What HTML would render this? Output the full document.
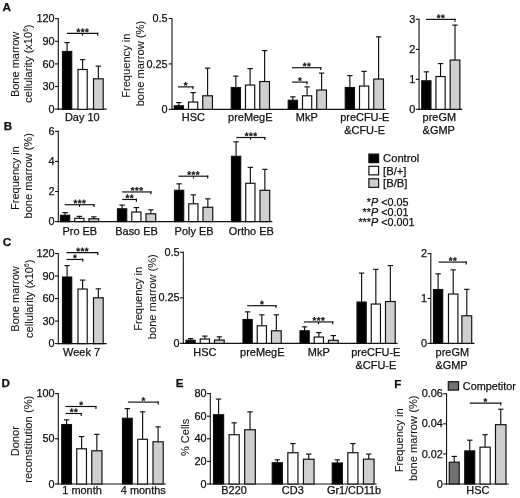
<!DOCTYPE html>
<html lang="en">
<head>
<meta charset="utf-8">
<title>Figure</title>
<style>
html,body{margin:0;padding:0;background:#fff;}
body{width:520px;height:498px;overflow:hidden;}
svg{display:block;}
svg text{font-family:"Liberation Sans", Arial, sans-serif;fill:#111;stroke:#111;stroke-width:0.25px;}
svg text.r{stroke-width:0.06px;}
</style>
</head>
<body>
<svg width="520" height="498" viewBox="0 0 520 498">
<rect x="0" y="0" width="520" height="498" fill="#fff"/>
<g transform="translate(0.3,0.6)">
<text x="2.30" y="10.50" font-size="11.8" text-anchor="start" font-weight="bold">A</text>
<line x1="58.00" y1="17.55" x2="58.00" y2="109.05" stroke="#111" stroke-width="1.1"/>
<line x1="57.45" y1="108.50" x2="106.30" y2="108.50" stroke="#111" stroke-width="1.1"/>
<line x1="54.70" y1="18.10" x2="58.00" y2="18.10" stroke="#111" stroke-width="1.1"/>
<text x="54.30" y="21.75" font-size="10.9" text-anchor="end" font-weight="normal">120</text>
<line x1="54.70" y1="40.70" x2="58.00" y2="40.70" stroke="#111" stroke-width="1.1"/>
<text x="54.30" y="44.35" font-size="10.9" text-anchor="end" font-weight="normal">90</text>
<line x1="54.70" y1="63.30" x2="58.00" y2="63.30" stroke="#111" stroke-width="1.1"/>
<text x="54.30" y="66.95" font-size="10.9" text-anchor="end" font-weight="normal">60</text>
<line x1="54.70" y1="85.90" x2="58.00" y2="85.90" stroke="#111" stroke-width="1.1"/>
<text x="54.30" y="89.55" font-size="10.9" text-anchor="end" font-weight="normal">30</text>
<line x1="54.70" y1="108.50" x2="58.00" y2="108.50" stroke="#111" stroke-width="1.1"/>
<text x="54.30" y="112.15" font-size="10.9" text-anchor="end" font-weight="normal">0</text>
<line x1="66.80" y1="42.00" x2="66.80" y2="50.80" stroke="#111" stroke-width="1.15"/>
<line x1="64.10" y1="42.00" x2="69.50" y2="42.00" stroke="#111" stroke-width="1.15"/>
<rect x="62.19" y="50.89" width="9.22" height="57.86" fill="#000" stroke="#111" stroke-width="1.18"/>
<line x1="82.30" y1="59.00" x2="82.30" y2="68.80" stroke="#111" stroke-width="1.15"/>
<line x1="79.60" y1="59.00" x2="85.00" y2="59.00" stroke="#111" stroke-width="1.15"/>
<rect x="77.69" y="68.89" width="9.22" height="39.86" fill="#fff" stroke="#111" stroke-width="1.18"/>
<line x1="98.05" y1="65.50" x2="98.05" y2="78.10" stroke="#111" stroke-width="1.15"/>
<line x1="95.35" y1="65.50" x2="100.75" y2="65.50" stroke="#111" stroke-width="1.15"/>
<rect x="93.19" y="78.19" width="9.72" height="30.56" fill="#cfcfcf" stroke="#111" stroke-width="1.18"/>
<line x1="66.60" y1="32.80" x2="98.00" y2="32.80" stroke="#111" stroke-width="1.18"/>
<line x1="97.41" y1="32.21" x2="97.41" y2="35.20" stroke="#111" stroke-width="1.18"/>
<line x1="82.10" y1="32.80" x2="82.10" y2="35.00" stroke="#111" stroke-width="1.18"/>
<text x="82.55" y="34.60" font-size="9.7" text-anchor="middle" font-weight="bold" letter-spacing="0.5" transform="rotate(0.03 82.55 34.60)">***</text>
<text x="82.00" y="120.60" font-size="10.95" text-anchor="middle" font-weight="normal">Day 10</text>
<text x="18.30" y="63.80" font-size="11.0" text-anchor="middle" font-weight="normal" transform="rotate(-90 18.30 63.80)" class="r">Bone marrow</text>
<text x="31.60" y="63.05" font-size="11.12" text-anchor="middle" font-weight="normal" transform="rotate(-90 31.60 63.05)" class="r">cellularity (x10<tspan font-size="6.5" dy="-4">6</tspan><tspan dy="4">)</tspan></text>
<line x1="171.70" y1="17.35" x2="171.70" y2="109.30" stroke="#111" stroke-width="1.1"/>
<line x1="171.15" y1="108.75" x2="385.20" y2="108.75" stroke="#111" stroke-width="1.1"/>
<line x1="168.40" y1="17.90" x2="171.70" y2="17.90" stroke="#111" stroke-width="1.1"/>
<text x="167.30" y="21.55" font-size="10.9" text-anchor="end" font-weight="normal">0.5</text>
<line x1="168.40" y1="63.32" x2="171.70" y2="63.32" stroke="#111" stroke-width="1.1"/>
<text x="167.30" y="66.98" font-size="10.9" text-anchor="end" font-weight="normal">0.25</text>
<line x1="168.40" y1="108.75" x2="171.70" y2="108.75" stroke="#111" stroke-width="1.1"/>
<text x="167.30" y="112.40" font-size="10.9" text-anchor="end" font-weight="normal">0</text>
<line x1="178.55" y1="102.00" x2="178.55" y2="105.10" stroke="#111" stroke-width="1.15"/>
<line x1="175.85" y1="102.00" x2="181.25" y2="102.00" stroke="#111" stroke-width="1.15"/>
<rect x="173.94" y="105.19" width="9.22" height="3.56" fill="#000" stroke="#111" stroke-width="1.18"/>
<line x1="192.80" y1="92.00" x2="192.80" y2="101.35" stroke="#111" stroke-width="1.15"/>
<line x1="190.10" y1="92.00" x2="195.50" y2="92.00" stroke="#111" stroke-width="1.15"/>
<rect x="188.19" y="101.44" width="9.22" height="7.31" fill="#fff" stroke="#111" stroke-width="1.18"/>
<line x1="207.30" y1="67.50" x2="207.30" y2="95.10" stroke="#111" stroke-width="1.15"/>
<line x1="204.60" y1="67.50" x2="210.00" y2="67.50" stroke="#111" stroke-width="1.15"/>
<rect x="202.44" y="95.19" width="9.72" height="13.56" fill="#cfcfcf" stroke="#111" stroke-width="1.18"/>
<line x1="235.55" y1="75.50" x2="235.55" y2="86.85" stroke="#111" stroke-width="1.15"/>
<line x1="232.85" y1="75.50" x2="238.25" y2="75.50" stroke="#111" stroke-width="1.15"/>
<rect x="230.94" y="86.94" width="9.22" height="21.81" fill="#000" stroke="#111" stroke-width="1.18"/>
<line x1="249.80" y1="68.00" x2="249.80" y2="84.35" stroke="#111" stroke-width="1.15"/>
<line x1="247.10" y1="68.00" x2="252.50" y2="68.00" stroke="#111" stroke-width="1.15"/>
<rect x="245.19" y="84.44" width="9.22" height="24.31" fill="#fff" stroke="#111" stroke-width="1.18"/>
<line x1="264.30" y1="50.00" x2="264.30" y2="80.85" stroke="#111" stroke-width="1.15"/>
<line x1="261.60" y1="50.00" x2="267.00" y2="50.00" stroke="#111" stroke-width="1.15"/>
<rect x="259.44" y="80.94" width="9.72" height="27.81" fill="#cfcfcf" stroke="#111" stroke-width="1.18"/>
<line x1="292.55" y1="96.25" x2="292.55" y2="99.60" stroke="#111" stroke-width="1.15"/>
<line x1="289.85" y1="96.25" x2="295.25" y2="96.25" stroke="#111" stroke-width="1.15"/>
<rect x="287.94" y="99.69" width="9.22" height="9.06" fill="#000" stroke="#111" stroke-width="1.18"/>
<line x1="306.80" y1="86.25" x2="306.80" y2="95.10" stroke="#111" stroke-width="1.15"/>
<line x1="304.10" y1="86.25" x2="309.50" y2="86.25" stroke="#111" stroke-width="1.15"/>
<rect x="302.19" y="95.19" width="9.22" height="13.56" fill="#fff" stroke="#111" stroke-width="1.18"/>
<line x1="321.30" y1="72.50" x2="321.30" y2="89.35" stroke="#111" stroke-width="1.15"/>
<line x1="318.60" y1="72.50" x2="324.00" y2="72.50" stroke="#111" stroke-width="1.15"/>
<rect x="316.44" y="89.44" width="9.72" height="19.31" fill="#cfcfcf" stroke="#111" stroke-width="1.18"/>
<line x1="349.55" y1="75.00" x2="349.55" y2="86.85" stroke="#111" stroke-width="1.15"/>
<line x1="346.85" y1="75.00" x2="352.25" y2="75.00" stroke="#111" stroke-width="1.15"/>
<rect x="344.94" y="86.94" width="9.22" height="21.81" fill="#000" stroke="#111" stroke-width="1.18"/>
<line x1="363.80" y1="70.75" x2="363.80" y2="85.35" stroke="#111" stroke-width="1.15"/>
<line x1="361.10" y1="70.75" x2="366.50" y2="70.75" stroke="#111" stroke-width="1.15"/>
<rect x="359.19" y="85.44" width="9.22" height="23.31" fill="#fff" stroke="#111" stroke-width="1.18"/>
<line x1="378.30" y1="36.25" x2="378.30" y2="78.35" stroke="#111" stroke-width="1.15"/>
<line x1="375.60" y1="36.25" x2="381.00" y2="36.25" stroke="#111" stroke-width="1.15"/>
<rect x="373.44" y="78.44" width="9.72" height="30.31" fill="#cfcfcf" stroke="#111" stroke-width="1.18"/>
<line x1="177.70" y1="86.30" x2="193.20" y2="86.30" stroke="#111" stroke-width="1.18"/>
<line x1="192.61" y1="85.71" x2="192.61" y2="88.70" stroke="#111" stroke-width="1.18"/>
<text x="185.70" y="88.10" font-size="9.7" text-anchor="middle" font-weight="bold" letter-spacing="0.5" transform="rotate(0.03 185.70 88.10)">*</text>
<line x1="291.80" y1="67.10" x2="321.00" y2="67.10" stroke="#111" stroke-width="1.18"/>
<line x1="320.41" y1="66.51" x2="320.41" y2="69.50" stroke="#111" stroke-width="1.18"/>
<text x="306.65" y="68.90" font-size="9.7" text-anchor="middle" font-weight="bold" letter-spacing="0.5" transform="rotate(0.03 306.65 68.90)">**</text>
<line x1="291.80" y1="81.50" x2="307.20" y2="81.50" stroke="#111" stroke-width="1.18"/>
<line x1="306.61" y1="80.91" x2="306.61" y2="83.90" stroke="#111" stroke-width="1.18"/>
<text x="299.75" y="83.30" font-size="9.7" text-anchor="middle" font-weight="bold" letter-spacing="0.5" transform="rotate(0.03 299.75 83.30)">*</text>
<text x="193.00" y="120.60" font-size="10.95" text-anchor="middle" font-weight="normal">HSC</text>
<text x="250.00" y="120.60" font-size="10.95" text-anchor="middle" font-weight="normal">preMegE</text>
<text x="306.50" y="120.60" font-size="10.95" text-anchor="middle" font-weight="normal">MkP</text>
<text x="364.50" y="120.60" font-size="10.95" text-anchor="middle" font-weight="normal">preCFU-E</text>
<text x="364.30" y="133.30" font-size="10.95" text-anchor="middle" font-weight="normal">&amp;CFU-E</text>
<text x="130.20" y="65.10" font-size="11.14" text-anchor="middle" font-weight="normal" transform="rotate(-90 130.20 65.10)" class="r">Frequency in</text>
<text x="144.10" y="63.00" font-size="11.15" text-anchor="middle" font-weight="normal" transform="rotate(-90 144.10 63.00)" class="r">bone marrow (%)</text>
<line x1="418.75" y1="18.20" x2="418.75" y2="109.30" stroke="#111" stroke-width="1.1"/>
<line x1="418.20" y1="108.75" x2="462.00" y2="108.75" stroke="#111" stroke-width="1.1"/>
<line x1="415.45" y1="18.75" x2="418.75" y2="18.75" stroke="#111" stroke-width="1.1"/>
<text x="415.05" y="22.40" font-size="10.9" text-anchor="end" font-weight="normal">3</text>
<line x1="415.45" y1="48.75" x2="418.75" y2="48.75" stroke="#111" stroke-width="1.1"/>
<text x="415.05" y="52.40" font-size="10.9" text-anchor="end" font-weight="normal">2</text>
<line x1="415.45" y1="78.75" x2="418.75" y2="78.75" stroke="#111" stroke-width="1.1"/>
<text x="415.05" y="82.40" font-size="10.9" text-anchor="end" font-weight="normal">1</text>
<line x1="415.45" y1="108.75" x2="418.75" y2="108.75" stroke="#111" stroke-width="1.1"/>
<text x="415.05" y="112.40" font-size="10.9" text-anchor="end" font-weight="normal">0</text>
<line x1="426.05" y1="71.25" x2="426.05" y2="80.10" stroke="#111" stroke-width="1.15"/>
<line x1="423.35" y1="71.25" x2="428.75" y2="71.25" stroke="#111" stroke-width="1.15"/>
<rect x="421.44" y="80.19" width="9.22" height="28.56" fill="#000" stroke="#111" stroke-width="1.18"/>
<line x1="440.25" y1="63.00" x2="440.25" y2="75.85" stroke="#111" stroke-width="1.15"/>
<line x1="437.55" y1="63.00" x2="442.95" y2="63.00" stroke="#111" stroke-width="1.15"/>
<rect x="435.64" y="75.94" width="9.22" height="32.81" fill="#fff" stroke="#111" stroke-width="1.18"/>
<line x1="454.70" y1="24.50" x2="454.70" y2="59.35" stroke="#111" stroke-width="1.15"/>
<line x1="452.00" y1="24.50" x2="457.40" y2="24.50" stroke="#111" stroke-width="1.15"/>
<rect x="449.84" y="59.44" width="9.72" height="49.31" fill="#cfcfcf" stroke="#111" stroke-width="1.18"/>
<line x1="425.70" y1="18.80" x2="455.30" y2="18.80" stroke="#111" stroke-width="1.18"/>
<line x1="454.71" y1="18.21" x2="454.71" y2="21.20" stroke="#111" stroke-width="1.18"/>
<text x="440.75" y="20.60" font-size="9.7" text-anchor="middle" font-weight="bold" letter-spacing="0.5" transform="rotate(0.03 440.75 20.60)">**</text>
<text x="439.00" y="120.50" font-size="10.95" text-anchor="middle" font-weight="normal">preGM</text>
<text x="438.40" y="133.20" font-size="10.95" text-anchor="middle" font-weight="normal">&amp;GMP</text>
<text x="3.40" y="129.50" font-size="11.6" text-anchor="start" font-weight="bold">B</text>
<line x1="58.00" y1="130.20" x2="58.00" y2="221.55" stroke="#111" stroke-width="1.1"/>
<line x1="57.45" y1="221.00" x2="272.00" y2="221.00" stroke="#111" stroke-width="1.1"/>
<line x1="54.70" y1="130.75" x2="58.00" y2="130.75" stroke="#111" stroke-width="1.1"/>
<text x="54.30" y="134.40" font-size="10.9" text-anchor="end" font-weight="normal">6</text>
<line x1="54.70" y1="160.83" x2="58.00" y2="160.83" stroke="#111" stroke-width="1.1"/>
<text x="54.30" y="164.48" font-size="10.9" text-anchor="end" font-weight="normal">4</text>
<line x1="54.70" y1="190.92" x2="58.00" y2="190.92" stroke="#111" stroke-width="1.1"/>
<text x="54.30" y="194.57" font-size="10.9" text-anchor="end" font-weight="normal">2</text>
<line x1="54.70" y1="221.00" x2="58.00" y2="221.00" stroke="#111" stroke-width="1.1"/>
<text x="54.30" y="224.65" font-size="10.9" text-anchor="end" font-weight="normal">0</text>
<line x1="64.80" y1="212.00" x2="64.80" y2="214.60" stroke="#111" stroke-width="1.15"/>
<line x1="62.10" y1="212.00" x2="67.50" y2="212.00" stroke="#111" stroke-width="1.15"/>
<rect x="60.19" y="214.69" width="9.22" height="6.31" fill="#000" stroke="#111" stroke-width="1.18"/>
<line x1="79.05" y1="215.75" x2="79.05" y2="217.60" stroke="#111" stroke-width="1.15"/>
<line x1="76.35" y1="215.75" x2="81.75" y2="215.75" stroke="#111" stroke-width="1.15"/>
<rect x="74.44" y="217.69" width="9.22" height="3.31" fill="#fff" stroke="#111" stroke-width="1.18"/>
<line x1="93.55" y1="216.25" x2="93.55" y2="218.10" stroke="#111" stroke-width="1.15"/>
<line x1="90.85" y1="216.25" x2="96.25" y2="216.25" stroke="#111" stroke-width="1.15"/>
<rect x="88.69" y="218.19" width="9.72" height="2.81" fill="#cfcfcf" stroke="#111" stroke-width="1.18"/>
<line x1="121.80" y1="204.50" x2="121.80" y2="208.10" stroke="#111" stroke-width="1.15"/>
<line x1="119.10" y1="204.50" x2="124.50" y2="204.50" stroke="#111" stroke-width="1.15"/>
<rect x="117.19" y="208.19" width="9.22" height="12.81" fill="#000" stroke="#111" stroke-width="1.18"/>
<line x1="136.05" y1="207.00" x2="136.05" y2="211.35" stroke="#111" stroke-width="1.15"/>
<line x1="133.35" y1="207.00" x2="138.75" y2="207.00" stroke="#111" stroke-width="1.15"/>
<rect x="131.44" y="211.44" width="9.22" height="9.56" fill="#fff" stroke="#111" stroke-width="1.18"/>
<line x1="150.55" y1="209.25" x2="150.55" y2="213.10" stroke="#111" stroke-width="1.15"/>
<line x1="147.85" y1="209.25" x2="153.25" y2="209.25" stroke="#111" stroke-width="1.15"/>
<rect x="145.69" y="213.19" width="9.72" height="7.81" fill="#cfcfcf" stroke="#111" stroke-width="1.18"/>
<line x1="178.80" y1="183.25" x2="178.80" y2="189.60" stroke="#111" stroke-width="1.15"/>
<line x1="176.10" y1="183.25" x2="181.50" y2="183.25" stroke="#111" stroke-width="1.15"/>
<rect x="174.19" y="189.69" width="9.22" height="31.31" fill="#000" stroke="#111" stroke-width="1.18"/>
<line x1="193.05" y1="194.25" x2="193.05" y2="203.10" stroke="#111" stroke-width="1.15"/>
<line x1="190.35" y1="194.25" x2="195.75" y2="194.25" stroke="#111" stroke-width="1.15"/>
<rect x="188.44" y="203.19" width="9.22" height="17.81" fill="#fff" stroke="#111" stroke-width="1.18"/>
<line x1="207.55" y1="198.25" x2="207.55" y2="206.60" stroke="#111" stroke-width="1.15"/>
<line x1="204.85" y1="198.25" x2="210.25" y2="198.25" stroke="#111" stroke-width="1.15"/>
<rect x="202.69" y="206.69" width="9.72" height="14.31" fill="#cfcfcf" stroke="#111" stroke-width="1.18"/>
<line x1="235.80" y1="141.25" x2="235.80" y2="155.60" stroke="#111" stroke-width="1.15"/>
<line x1="233.10" y1="141.25" x2="238.50" y2="141.25" stroke="#111" stroke-width="1.15"/>
<rect x="231.19" y="155.69" width="9.22" height="65.31" fill="#000" stroke="#111" stroke-width="1.18"/>
<line x1="250.05" y1="166.75" x2="250.05" y2="182.60" stroke="#111" stroke-width="1.15"/>
<line x1="247.35" y1="166.75" x2="252.75" y2="166.75" stroke="#111" stroke-width="1.15"/>
<rect x="245.44" y="182.69" width="9.22" height="38.31" fill="#fff" stroke="#111" stroke-width="1.18"/>
<line x1="264.55" y1="168.75" x2="264.55" y2="189.60" stroke="#111" stroke-width="1.15"/>
<line x1="261.85" y1="168.75" x2="267.25" y2="168.75" stroke="#111" stroke-width="1.15"/>
<rect x="259.69" y="189.69" width="9.72" height="31.31" fill="#cfcfcf" stroke="#111" stroke-width="1.18"/>
<line x1="64.40" y1="204.10" x2="94.20" y2="204.10" stroke="#111" stroke-width="1.18"/>
<line x1="93.61" y1="203.51" x2="93.61" y2="206.50" stroke="#111" stroke-width="1.18"/>
<line x1="79.20" y1="204.10" x2="79.20" y2="206.30" stroke="#111" stroke-width="1.18"/>
<text x="79.55" y="205.90" font-size="9.7" text-anchor="middle" font-weight="bold" letter-spacing="0.5" transform="rotate(0.03 79.55 205.90)">***</text>
<line x1="121.90" y1="191.35" x2="151.20" y2="191.35" stroke="#111" stroke-width="1.18"/>
<line x1="150.61" y1="190.76" x2="150.61" y2="193.75" stroke="#111" stroke-width="1.18"/>
<text x="136.80" y="193.15" font-size="9.7" text-anchor="middle" font-weight="bold" letter-spacing="0.5" transform="rotate(0.03 136.80 193.15)">***</text>
<line x1="121.90" y1="198.85" x2="136.70" y2="198.85" stroke="#111" stroke-width="1.18"/>
<line x1="136.11" y1="198.26" x2="136.11" y2="201.25" stroke="#111" stroke-width="1.18"/>
<text x="129.55" y="200.65" font-size="9.7" text-anchor="middle" font-weight="bold" letter-spacing="0.5" transform="rotate(0.03 129.55 200.65)">**</text>
<line x1="178.15" y1="175.60" x2="208.00" y2="175.60" stroke="#111" stroke-width="1.18"/>
<line x1="207.41" y1="175.01" x2="207.41" y2="178.00" stroke="#111" stroke-width="1.18"/>
<line x1="193.20" y1="175.60" x2="193.20" y2="177.80" stroke="#111" stroke-width="1.18"/>
<text x="193.32" y="177.40" font-size="9.7" text-anchor="middle" font-weight="bold" letter-spacing="0.5" transform="rotate(0.03 193.32 177.40)">***</text>
<line x1="236.00" y1="136.90" x2="265.10" y2="136.90" stroke="#111" stroke-width="1.18"/>
<line x1="264.51" y1="136.31" x2="264.51" y2="139.30" stroke="#111" stroke-width="1.18"/>
<line x1="250.20" y1="136.90" x2="250.20" y2="139.10" stroke="#111" stroke-width="1.18"/>
<text x="250.80" y="138.70" font-size="9.7" text-anchor="middle" font-weight="bold" letter-spacing="0.5" transform="rotate(0.03 250.80 138.70)">***</text>
<text x="79.50" y="234.30" font-size="10.95" text-anchor="middle" font-weight="normal">Pro EB</text>
<text x="136.25" y="234.30" font-size="10.95" text-anchor="middle" font-weight="normal">Baso EB</text>
<text x="193.75" y="234.30" font-size="10.95" text-anchor="middle" font-weight="normal">Poly EB</text>
<text x="251.00" y="234.30" font-size="10.95" text-anchor="middle" font-weight="normal">Ortho EB</text>
<text x="18.80" y="177.50" font-size="11.0" text-anchor="middle" font-weight="normal" transform="rotate(-90 18.80 177.50)" class="r">Frequency in</text>
<text x="32.00" y="175.25" font-size="11.15" text-anchor="middle" font-weight="normal" transform="rotate(-90 32.00 175.25)" class="r">bone marrow (%)</text>
<rect x="368.59" y="153.49" width="9.72" height="8.57" fill="#000" stroke="#111" stroke-width="1.18"/>
<rect x="368.59" y="165.69" width="9.72" height="8.57" fill="#fff" stroke="#111" stroke-width="1.18"/>
<rect x="368.59" y="178.19" width="9.72" height="8.57" fill="#cfcfcf" stroke="#111" stroke-width="1.18"/>
<text x="382.80" y="161.80" font-size="11.2" text-anchor="start" font-weight="normal">Control</text>
<text x="382.80" y="174.00" font-size="11.2" text-anchor="start" font-weight="normal">[B/+]</text>
<text x="382.80" y="186.10" font-size="11.2" text-anchor="start" font-weight="normal">[B/B]</text>
<text x="370.70" y="205.70" font-size="10.8" text-anchor="end" font-weight="normal">*</text>
<text x="370.70" y="205.70" font-size="10.8" text-anchor="start" font-weight="normal"><tspan font-style="italic">P</tspan> &lt;0.05</text>
<text x="370.70" y="215.60" font-size="10.8" text-anchor="end" font-weight="normal">**</text>
<text x="370.70" y="215.60" font-size="10.8" text-anchor="start" font-weight="normal"><tspan font-style="italic">P</tspan> &lt;0.01</text>
<text x="370.70" y="225.40" font-size="10.8" text-anchor="end" font-weight="normal">***</text>
<text x="370.70" y="225.40" font-size="10.8" text-anchor="start" font-weight="normal"><tspan font-style="italic">P</tspan> &lt;0.001</text>
<text x="2.50" y="245.70" font-size="11.8" text-anchor="start" font-weight="bold">C</text>
<line x1="58.00" y1="252.35" x2="58.00" y2="343.55" stroke="#111" stroke-width="1.1"/>
<line x1="57.45" y1="343.00" x2="106.30" y2="343.00" stroke="#111" stroke-width="1.1"/>
<line x1="54.70" y1="252.90" x2="58.00" y2="252.90" stroke="#111" stroke-width="1.1"/>
<text x="54.30" y="256.55" font-size="10.9" text-anchor="end" font-weight="normal">120</text>
<line x1="54.70" y1="275.43" x2="58.00" y2="275.43" stroke="#111" stroke-width="1.1"/>
<text x="54.30" y="279.08" font-size="10.9" text-anchor="end" font-weight="normal">90</text>
<line x1="54.70" y1="297.95" x2="58.00" y2="297.95" stroke="#111" stroke-width="1.1"/>
<text x="54.30" y="301.60" font-size="10.9" text-anchor="end" font-weight="normal">60</text>
<line x1="54.70" y1="320.48" x2="58.00" y2="320.48" stroke="#111" stroke-width="1.1"/>
<text x="54.30" y="324.13" font-size="10.9" text-anchor="end" font-weight="normal">30</text>
<line x1="54.70" y1="343.00" x2="58.00" y2="343.00" stroke="#111" stroke-width="1.1"/>
<text x="54.30" y="346.65" font-size="10.9" text-anchor="end" font-weight="normal">0</text>
<line x1="66.80" y1="265.00" x2="66.80" y2="276.35" stroke="#111" stroke-width="1.15"/>
<line x1="64.10" y1="265.00" x2="69.50" y2="265.00" stroke="#111" stroke-width="1.15"/>
<rect x="62.19" y="276.44" width="9.22" height="66.56" fill="#000" stroke="#111" stroke-width="1.18"/>
<line x1="82.30" y1="279.50" x2="82.30" y2="288.35" stroke="#111" stroke-width="1.15"/>
<line x1="79.60" y1="279.50" x2="85.00" y2="279.50" stroke="#111" stroke-width="1.15"/>
<rect x="77.69" y="288.44" width="9.22" height="54.56" fill="#fff" stroke="#111" stroke-width="1.18"/>
<line x1="98.05" y1="288.25" x2="98.05" y2="297.10" stroke="#111" stroke-width="1.15"/>
<line x1="95.35" y1="288.25" x2="100.75" y2="288.25" stroke="#111" stroke-width="1.15"/>
<rect x="93.19" y="297.19" width="9.72" height="45.81" fill="#cfcfcf" stroke="#111" stroke-width="1.18"/>
<line x1="66.15" y1="252.10" x2="98.00" y2="252.10" stroke="#111" stroke-width="1.18"/>
<line x1="97.41" y1="251.51" x2="97.41" y2="254.50" stroke="#111" stroke-width="1.18"/>
<text x="82.33" y="253.90" font-size="9.7" text-anchor="middle" font-weight="bold" letter-spacing="0.5" transform="rotate(0.03 82.33 253.90)">***</text>
<line x1="66.15" y1="258.85" x2="83.00" y2="258.85" stroke="#111" stroke-width="1.18"/>
<line x1="82.41" y1="258.26" x2="82.41" y2="261.25" stroke="#111" stroke-width="1.18"/>
<text x="74.83" y="260.65" font-size="9.7" text-anchor="middle" font-weight="bold" letter-spacing="0.5" transform="rotate(0.03 74.83 260.65)">*</text>
<text x="81.25" y="355.20" font-size="10.95" text-anchor="middle" font-weight="normal">Week 7</text>
<text x="18.50" y="298.40" font-size="11.0" text-anchor="middle" font-weight="normal" transform="rotate(-90 18.50 298.40)" class="r">Bone marrow</text>
<text x="32.40" y="298.20" font-size="11.12" text-anchor="middle" font-weight="normal" transform="rotate(-90 32.40 298.20)" class="r">cellularity (x10<tspan font-size="6.5" dy="-4">6</tspan><tspan dy="4">)</tspan></text>
<line x1="183.00" y1="251.15" x2="183.00" y2="343.30" stroke="#111" stroke-width="1.1"/>
<line x1="182.45" y1="342.75" x2="397.30" y2="342.75" stroke="#111" stroke-width="1.1"/>
<line x1="179.70" y1="251.70" x2="183.00" y2="251.70" stroke="#111" stroke-width="1.1"/>
<text x="179.30" y="255.35" font-size="10.9" text-anchor="end" font-weight="normal">0.5</text>
<line x1="179.70" y1="297.23" x2="183.00" y2="297.23" stroke="#111" stroke-width="1.1"/>
<text x="179.30" y="300.88" font-size="10.9" text-anchor="end" font-weight="normal">0.25</text>
<line x1="179.70" y1="342.75" x2="183.00" y2="342.75" stroke="#111" stroke-width="1.1"/>
<text x="179.30" y="346.40" font-size="10.9" text-anchor="end" font-weight="normal">0</text>
<line x1="190.30" y1="338.00" x2="190.30" y2="339.60" stroke="#111" stroke-width="1.15"/>
<line x1="187.60" y1="338.00" x2="193.00" y2="338.00" stroke="#111" stroke-width="1.15"/>
<rect x="185.69" y="339.69" width="9.22" height="3.06" fill="#000" stroke="#111" stroke-width="1.18"/>
<line x1="204.55" y1="335.50" x2="204.55" y2="338.35" stroke="#111" stroke-width="1.15"/>
<line x1="201.85" y1="335.50" x2="207.25" y2="335.50" stroke="#111" stroke-width="1.15"/>
<rect x="199.94" y="338.44" width="9.22" height="4.31" fill="#fff" stroke="#111" stroke-width="1.18"/>
<line x1="219.05" y1="336.25" x2="219.05" y2="339.35" stroke="#111" stroke-width="1.15"/>
<line x1="216.35" y1="336.25" x2="221.75" y2="336.25" stroke="#111" stroke-width="1.15"/>
<rect x="214.19" y="339.44" width="9.72" height="3.31" fill="#cfcfcf" stroke="#111" stroke-width="1.18"/>
<line x1="247.30" y1="311.25" x2="247.30" y2="318.85" stroke="#111" stroke-width="1.15"/>
<line x1="244.60" y1="311.25" x2="250.00" y2="311.25" stroke="#111" stroke-width="1.15"/>
<rect x="242.69" y="318.94" width="9.22" height="23.81" fill="#000" stroke="#111" stroke-width="1.18"/>
<line x1="261.55" y1="314.25" x2="261.55" y2="325.10" stroke="#111" stroke-width="1.15"/>
<line x1="258.85" y1="314.25" x2="264.25" y2="314.25" stroke="#111" stroke-width="1.15"/>
<rect x="256.94" y="325.19" width="9.22" height="17.56" fill="#fff" stroke="#111" stroke-width="1.18"/>
<line x1="276.05" y1="314.25" x2="276.05" y2="330.10" stroke="#111" stroke-width="1.15"/>
<line x1="273.35" y1="314.25" x2="278.75" y2="314.25" stroke="#111" stroke-width="1.15"/>
<rect x="271.19" y="330.19" width="9.72" height="12.56" fill="#cfcfcf" stroke="#111" stroke-width="1.18"/>
<line x1="304.30" y1="326.25" x2="304.30" y2="330.10" stroke="#111" stroke-width="1.15"/>
<line x1="301.60" y1="326.25" x2="307.00" y2="326.25" stroke="#111" stroke-width="1.15"/>
<rect x="299.69" y="330.19" width="9.22" height="12.56" fill="#000" stroke="#111" stroke-width="1.18"/>
<line x1="318.55" y1="332.00" x2="318.55" y2="336.35" stroke="#111" stroke-width="1.15"/>
<line x1="315.85" y1="332.00" x2="321.25" y2="332.00" stroke="#111" stroke-width="1.15"/>
<rect x="313.94" y="336.44" width="9.22" height="6.31" fill="#fff" stroke="#111" stroke-width="1.18"/>
<line x1="333.05" y1="335.00" x2="333.05" y2="339.60" stroke="#111" stroke-width="1.15"/>
<line x1="330.35" y1="335.00" x2="335.75" y2="335.00" stroke="#111" stroke-width="1.15"/>
<rect x="328.19" y="339.69" width="9.72" height="3.06" fill="#cfcfcf" stroke="#111" stroke-width="1.18"/>
<line x1="361.30" y1="272.50" x2="361.30" y2="301.35" stroke="#111" stroke-width="1.15"/>
<line x1="358.60" y1="272.50" x2="364.00" y2="272.50" stroke="#111" stroke-width="1.15"/>
<rect x="356.69" y="301.44" width="9.22" height="41.31" fill="#000" stroke="#111" stroke-width="1.18"/>
<line x1="375.55" y1="268.75" x2="375.55" y2="303.35" stroke="#111" stroke-width="1.15"/>
<line x1="372.85" y1="268.75" x2="378.25" y2="268.75" stroke="#111" stroke-width="1.15"/>
<rect x="370.94" y="303.44" width="9.22" height="39.31" fill="#fff" stroke="#111" stroke-width="1.18"/>
<line x1="390.05" y1="265.00" x2="390.05" y2="300.85" stroke="#111" stroke-width="1.15"/>
<line x1="387.35" y1="265.00" x2="392.75" y2="265.00" stroke="#111" stroke-width="1.15"/>
<rect x="385.19" y="300.94" width="9.72" height="41.81" fill="#cfcfcf" stroke="#111" stroke-width="1.18"/>
<line x1="246.90" y1="305.10" x2="276.25" y2="305.10" stroke="#111" stroke-width="1.18"/>
<line x1="275.66" y1="304.51" x2="275.66" y2="307.50" stroke="#111" stroke-width="1.18"/>
<text x="261.82" y="306.90" font-size="9.7" text-anchor="middle" font-weight="bold" letter-spacing="0.5" transform="rotate(0.03 261.82 306.90)">*</text>
<line x1="303.65" y1="321.35" x2="333.00" y2="321.35" stroke="#111" stroke-width="1.18"/>
<line x1="332.41" y1="320.76" x2="332.41" y2="323.75" stroke="#111" stroke-width="1.18"/>
<line x1="318.20" y1="321.35" x2="318.20" y2="323.55" stroke="#111" stroke-width="1.18"/>
<text x="318.57" y="323.15" font-size="9.7" text-anchor="middle" font-weight="bold" letter-spacing="0.5" transform="rotate(0.03 318.57 323.15)">***</text>
<text x="204.50" y="355.20" font-size="10.95" text-anchor="middle" font-weight="normal">HSC</text>
<text x="262.00" y="355.20" font-size="10.95" text-anchor="middle" font-weight="normal">preMegE</text>
<text x="318.50" y="355.20" font-size="10.95" text-anchor="middle" font-weight="normal">MkP</text>
<text x="375.50" y="355.20" font-size="10.95" text-anchor="middle" font-weight="normal">preCFU-E</text>
<text x="375.60" y="368.10" font-size="10.95" text-anchor="middle" font-weight="normal">&amp;CFU-E</text>
<text x="141.50" y="298.20" font-size="11.05" text-anchor="middle" font-weight="normal" transform="rotate(-90 141.50 298.20)" class="r">Frequency in</text>
<text x="155.30" y="296.10" font-size="11.07" text-anchor="middle" font-weight="normal" transform="rotate(-90 155.30 296.10)" class="r">bone marrow (%)</text>
<line x1="430.50" y1="252.45" x2="430.50" y2="343.30" stroke="#111" stroke-width="1.1"/>
<line x1="429.95" y1="342.75" x2="474.20" y2="342.75" stroke="#111" stroke-width="1.1"/>
<line x1="427.20" y1="253.00" x2="430.50" y2="253.00" stroke="#111" stroke-width="1.1"/>
<text x="426.80" y="256.65" font-size="10.9" text-anchor="end" font-weight="normal">2</text>
<line x1="427.20" y1="297.88" x2="430.50" y2="297.88" stroke="#111" stroke-width="1.1"/>
<text x="426.80" y="301.53" font-size="10.9" text-anchor="end" font-weight="normal">1</text>
<line x1="427.20" y1="342.75" x2="430.50" y2="342.75" stroke="#111" stroke-width="1.1"/>
<text x="426.80" y="346.40" font-size="10.9" text-anchor="end" font-weight="normal">0</text>
<line x1="437.80" y1="273.25" x2="437.80" y2="288.85" stroke="#111" stroke-width="1.15"/>
<line x1="435.10" y1="273.25" x2="440.50" y2="273.25" stroke="#111" stroke-width="1.15"/>
<rect x="433.19" y="288.94" width="9.22" height="53.81" fill="#000" stroke="#111" stroke-width="1.18"/>
<line x1="452.90" y1="269.25" x2="452.90" y2="293.35" stroke="#111" stroke-width="1.15"/>
<line x1="450.20" y1="269.25" x2="455.60" y2="269.25" stroke="#111" stroke-width="1.15"/>
<rect x="448.19" y="293.44" width="9.42" height="49.31" fill="#fff" stroke="#111" stroke-width="1.18"/>
<line x1="466.50" y1="288.75" x2="466.50" y2="315.10" stroke="#111" stroke-width="1.15"/>
<line x1="463.80" y1="288.75" x2="469.20" y2="288.75" stroke="#111" stroke-width="1.15"/>
<rect x="461.59" y="315.19" width="9.82" height="27.56" fill="#cfcfcf" stroke="#111" stroke-width="1.18"/>
<line x1="438.30" y1="261.50" x2="466.50" y2="261.50" stroke="#111" stroke-width="1.18"/>
<line x1="465.91" y1="260.91" x2="465.91" y2="263.90" stroke="#111" stroke-width="1.18"/>
<text x="452.65" y="263.30" font-size="9.7" text-anchor="middle" font-weight="bold" letter-spacing="0.5" transform="rotate(0.03 452.65 263.30)">**</text>
<text x="452.00" y="355.20" font-size="10.95" text-anchor="middle" font-weight="normal">preGM</text>
<text x="451.20" y="368.10" font-size="10.95" text-anchor="middle" font-weight="normal">&amp;GMP</text>
<text x="1.30" y="386.20" font-size="11.6" text-anchor="start" font-weight="bold">D</text>
<line x1="58.00" y1="392.45" x2="58.00" y2="483.95" stroke="#111" stroke-width="1.1"/>
<line x1="57.45" y1="483.40" x2="165.50" y2="483.40" stroke="#111" stroke-width="1.1"/>
<line x1="54.70" y1="393.00" x2="58.00" y2="393.00" stroke="#111" stroke-width="1.1"/>
<text x="54.30" y="396.65" font-size="10.9" text-anchor="end" font-weight="normal">100</text>
<line x1="54.70" y1="438.20" x2="58.00" y2="438.20" stroke="#111" stroke-width="1.1"/>
<text x="54.30" y="441.85" font-size="10.9" text-anchor="end" font-weight="normal">50</text>
<line x1="54.70" y1="483.40" x2="58.00" y2="483.40" stroke="#111" stroke-width="1.1"/>
<text x="54.30" y="487.05" font-size="10.9" text-anchor="end" font-weight="normal">0</text>
<line x1="66.30" y1="419.25" x2="66.30" y2="423.85" stroke="#111" stroke-width="1.15"/>
<line x1="63.60" y1="419.25" x2="69.00" y2="419.25" stroke="#111" stroke-width="1.15"/>
<rect x="61.44" y="423.94" width="9.72" height="59.46" fill="#000" stroke="#111" stroke-width="1.18"/>
<line x1="81.30" y1="436.00" x2="81.30" y2="448.10" stroke="#111" stroke-width="1.15"/>
<line x1="78.60" y1="436.00" x2="84.00" y2="436.00" stroke="#111" stroke-width="1.15"/>
<rect x="76.44" y="448.19" width="9.72" height="35.21" fill="#fff" stroke="#111" stroke-width="1.18"/>
<line x1="96.55" y1="433.75" x2="96.55" y2="450.10" stroke="#111" stroke-width="1.15"/>
<line x1="93.85" y1="433.75" x2="99.25" y2="433.75" stroke="#111" stroke-width="1.15"/>
<rect x="91.44" y="450.19" width="10.22" height="33.21" fill="#cfcfcf" stroke="#111" stroke-width="1.18"/>
<line x1="127.05" y1="408.00" x2="127.05" y2="417.60" stroke="#111" stroke-width="1.15"/>
<line x1="124.35" y1="408.00" x2="129.75" y2="408.00" stroke="#111" stroke-width="1.15"/>
<rect x="122.19" y="417.69" width="9.72" height="65.71" fill="#000" stroke="#111" stroke-width="1.18"/>
<line x1="142.30" y1="411.25" x2="142.30" y2="438.60" stroke="#111" stroke-width="1.15"/>
<line x1="139.60" y1="411.25" x2="145.00" y2="411.25" stroke="#111" stroke-width="1.15"/>
<rect x="137.44" y="438.69" width="9.72" height="44.71" fill="#fff" stroke="#111" stroke-width="1.18"/>
<line x1="157.80" y1="426.25" x2="157.80" y2="441.10" stroke="#111" stroke-width="1.15"/>
<line x1="155.10" y1="426.25" x2="160.50" y2="426.25" stroke="#111" stroke-width="1.15"/>
<rect x="152.69" y="441.19" width="10.22" height="42.21" fill="#cfcfcf" stroke="#111" stroke-width="1.18"/>
<line x1="65.30" y1="405.90" x2="96.20" y2="405.90" stroke="#111" stroke-width="1.18"/>
<line x1="95.61" y1="405.31" x2="95.61" y2="408.30" stroke="#111" stroke-width="1.18"/>
<text x="81.00" y="407.70" font-size="9.7" text-anchor="middle" font-weight="bold" letter-spacing="0.5" transform="rotate(0.03 81.00 407.70)">*</text>
<line x1="65.30" y1="412.90" x2="81.50" y2="412.90" stroke="#111" stroke-width="1.18"/>
<line x1="80.91" y1="412.31" x2="80.91" y2="415.30" stroke="#111" stroke-width="1.18"/>
<text x="73.65" y="414.70" font-size="9.7" text-anchor="middle" font-weight="bold" letter-spacing="0.5" transform="rotate(0.03 73.65 414.70)">**</text>
<line x1="127.60" y1="401.50" x2="158.50" y2="401.50" stroke="#111" stroke-width="1.18"/>
<line x1="157.91" y1="400.91" x2="157.91" y2="403.90" stroke="#111" stroke-width="1.18"/>
<text x="143.30" y="403.30" font-size="9.7" text-anchor="middle" font-weight="bold" letter-spacing="0.5" transform="rotate(0.03 143.30 403.30)">*</text>
<text x="81.75" y="493.30" font-size="10.95" text-anchor="middle" font-weight="normal">1 month</text>
<text x="143.00" y="493.30" font-size="10.95" text-anchor="middle" font-weight="normal">4 months</text>
<text x="18.80" y="440.60" font-size="11.1" text-anchor="middle" font-weight="normal" transform="rotate(-90 18.80 440.60)" class="r">Donor</text>
<text x="31.60" y="438.60" font-size="11.2" text-anchor="middle" font-weight="normal" transform="rotate(-90 31.60 438.60)" class="r">reconstitution (%)</text>
<text x="175.50" y="386.60" font-size="11.6" text-anchor="start" font-weight="bold">E</text>
<line x1="210.00" y1="392.45" x2="210.00" y2="483.95" stroke="#111" stroke-width="1.1"/>
<line x1="209.45" y1="483.40" x2="376.20" y2="483.40" stroke="#111" stroke-width="1.1"/>
<line x1="206.70" y1="393.00" x2="210.00" y2="393.00" stroke="#111" stroke-width="1.1"/>
<text x="206.30" y="396.65" font-size="10.9" text-anchor="end" font-weight="normal">80</text>
<line x1="206.70" y1="415.60" x2="210.00" y2="415.60" stroke="#111" stroke-width="1.1"/>
<text x="206.30" y="419.25" font-size="10.9" text-anchor="end" font-weight="normal">60</text>
<line x1="206.70" y1="438.20" x2="210.00" y2="438.20" stroke="#111" stroke-width="1.1"/>
<text x="206.30" y="441.85" font-size="10.9" text-anchor="end" font-weight="normal">40</text>
<line x1="206.70" y1="460.80" x2="210.00" y2="460.80" stroke="#111" stroke-width="1.1"/>
<text x="206.30" y="464.45" font-size="10.9" text-anchor="end" font-weight="normal">20</text>
<line x1="206.70" y1="483.40" x2="210.00" y2="483.40" stroke="#111" stroke-width="1.1"/>
<text x="206.30" y="487.05" font-size="10.9" text-anchor="end" font-weight="normal">0</text>
<line x1="218.25" y1="398.50" x2="218.25" y2="414.05" stroke="#111" stroke-width="1.15"/>
<line x1="215.55" y1="398.50" x2="220.95" y2="398.50" stroke="#111" stroke-width="1.15"/>
<rect x="213.19" y="414.14" width="10.12" height="69.26" fill="#000" stroke="#111" stroke-width="1.18"/>
<line x1="233.85" y1="422.25" x2="233.85" y2="434.05" stroke="#111" stroke-width="1.15"/>
<line x1="231.15" y1="422.25" x2="236.55" y2="422.25" stroke="#111" stroke-width="1.15"/>
<rect x="228.79" y="434.14" width="10.12" height="49.26" fill="#fff" stroke="#111" stroke-width="1.18"/>
<line x1="249.70" y1="411.25" x2="249.70" y2="429.05" stroke="#111" stroke-width="1.15"/>
<line x1="247.00" y1="411.25" x2="252.40" y2="411.25" stroke="#111" stroke-width="1.15"/>
<rect x="244.39" y="429.14" width="10.62" height="54.26" fill="#cfcfcf" stroke="#111" stroke-width="1.18"/>
<line x1="277.00" y1="459.25" x2="277.00" y2="462.05" stroke="#111" stroke-width="1.15"/>
<line x1="274.30" y1="459.25" x2="279.70" y2="459.25" stroke="#111" stroke-width="1.15"/>
<rect x="271.94" y="462.14" width="10.12" height="21.26" fill="#000" stroke="#111" stroke-width="1.18"/>
<line x1="292.60" y1="443.00" x2="292.60" y2="452.05" stroke="#111" stroke-width="1.15"/>
<line x1="289.90" y1="443.00" x2="295.30" y2="443.00" stroke="#111" stroke-width="1.15"/>
<rect x="287.54" y="452.14" width="10.12" height="31.26" fill="#fff" stroke="#111" stroke-width="1.18"/>
<line x1="308.45" y1="453.50" x2="308.45" y2="458.55" stroke="#111" stroke-width="1.15"/>
<line x1="305.75" y1="453.50" x2="311.15" y2="453.50" stroke="#111" stroke-width="1.15"/>
<rect x="303.14" y="458.64" width="10.62" height="24.76" fill="#cfcfcf" stroke="#111" stroke-width="1.18"/>
<line x1="337.00" y1="459.25" x2="337.00" y2="462.30" stroke="#111" stroke-width="1.15"/>
<line x1="334.30" y1="459.25" x2="339.70" y2="459.25" stroke="#111" stroke-width="1.15"/>
<rect x="331.94" y="462.39" width="10.12" height="21.01" fill="#000" stroke="#111" stroke-width="1.18"/>
<line x1="352.60" y1="443.00" x2="352.60" y2="452.05" stroke="#111" stroke-width="1.15"/>
<line x1="349.90" y1="443.00" x2="355.30" y2="443.00" stroke="#111" stroke-width="1.15"/>
<rect x="347.54" y="452.14" width="10.12" height="31.26" fill="#fff" stroke="#111" stroke-width="1.18"/>
<line x1="368.45" y1="453.50" x2="368.45" y2="458.45" stroke="#111" stroke-width="1.15"/>
<line x1="365.75" y1="453.50" x2="371.15" y2="453.50" stroke="#111" stroke-width="1.15"/>
<rect x="363.14" y="458.54" width="10.62" height="24.86" fill="#cfcfcf" stroke="#111" stroke-width="1.18"/>
<text x="233.75" y="493.30" font-size="10.95" text-anchor="middle" font-weight="normal">B220</text>
<text x="292.50" y="493.30" font-size="10.95" text-anchor="middle" font-weight="normal">CD3</text>
<text x="353.75" y="493.30" font-size="10.9" text-anchor="middle" font-weight="normal">Gr1/CD11b</text>
<text x="188.50" y="436.75" font-size="11.0" text-anchor="middle" font-weight="normal" transform="rotate(-90 188.50 436.75)" class="r">% Cells</text>
<text x="393.90" y="387.10" font-size="11.6" text-anchor="start" font-weight="bold">F</text>
<line x1="446.25" y1="392.55" x2="446.25" y2="483.95" stroke="#111" stroke-width="1.1"/>
<line x1="445.70" y1="483.40" x2="508.40" y2="483.40" stroke="#111" stroke-width="1.1"/>
<line x1="442.95" y1="393.10" x2="446.25" y2="393.10" stroke="#111" stroke-width="1.1"/>
<text x="442.55" y="396.75" font-size="10.9" text-anchor="end" font-weight="normal">0.06</text>
<line x1="442.95" y1="423.20" x2="446.25" y2="423.20" stroke="#111" stroke-width="1.1"/>
<text x="442.55" y="426.85" font-size="10.9" text-anchor="end" font-weight="normal">0.04</text>
<line x1="442.95" y1="453.30" x2="446.25" y2="453.30" stroke="#111" stroke-width="1.1"/>
<text x="442.55" y="456.95" font-size="10.9" text-anchor="end" font-weight="normal">0.02</text>
<line x1="442.95" y1="483.40" x2="446.25" y2="483.40" stroke="#111" stroke-width="1.1"/>
<text x="442.55" y="487.05" font-size="10.9" text-anchor="end" font-weight="normal">0</text>
<line x1="453.93" y1="455.80" x2="453.93" y2="461.50" stroke="#111" stroke-width="1.15"/>
<line x1="451.23" y1="455.80" x2="456.62" y2="455.80" stroke="#111" stroke-width="1.15"/>
<rect x="448.94" y="461.59" width="9.97" height="21.81" fill="#717171" stroke="#111" stroke-width="1.18"/>
<line x1="469.43" y1="439.60" x2="469.43" y2="450.20" stroke="#111" stroke-width="1.15"/>
<line x1="466.73" y1="439.60" x2="472.12" y2="439.60" stroke="#111" stroke-width="1.15"/>
<rect x="464.44" y="450.29" width="9.97" height="33.11" fill="#000" stroke="#111" stroke-width="1.18"/>
<line x1="484.80" y1="434.10" x2="484.80" y2="446.50" stroke="#111" stroke-width="1.15"/>
<line x1="482.10" y1="434.10" x2="487.50" y2="434.10" stroke="#111" stroke-width="1.15"/>
<rect x="479.69" y="446.59" width="10.22" height="36.81" fill="#fff" stroke="#111" stroke-width="1.18"/>
<line x1="500.45" y1="408.60" x2="500.45" y2="424.00" stroke="#111" stroke-width="1.15"/>
<line x1="497.75" y1="408.60" x2="503.15" y2="408.60" stroke="#111" stroke-width="1.15"/>
<rect x="495.19" y="424.09" width="10.52" height="59.31" fill="#cfcfcf" stroke="#111" stroke-width="1.18"/>
<line x1="469.40" y1="402.60" x2="501.00" y2="402.60" stroke="#111" stroke-width="1.18"/>
<line x1="500.41" y1="402.01" x2="500.41" y2="405.00" stroke="#111" stroke-width="1.18"/>
<text x="485.45" y="404.40" font-size="9.7" text-anchor="middle" font-weight="bold" letter-spacing="0.5" transform="rotate(0.03 485.45 404.40)">*</text>
<text x="477.50" y="493.30" font-size="10.95" text-anchor="middle" font-weight="normal">HSC</text>
<rect x="447.99" y="381.09" width="10.22" height="8.42" fill="#717171" stroke="#111" stroke-width="1.18"/>
<text x="462.50" y="389.30" font-size="10.85" text-anchor="start" font-weight="normal">Competitor</text>
<text x="402.90" y="439.70" font-size="11.05" text-anchor="middle" font-weight="normal" transform="rotate(-90 402.90 439.70)" class="r">Frequency in</text>
<text x="416.60" y="437.60" font-size="11.15" text-anchor="middle" font-weight="normal" transform="rotate(-90 416.60 437.60)" class="r">bone marrow (%)</text>
</g>
</svg>
</body>
</html>
